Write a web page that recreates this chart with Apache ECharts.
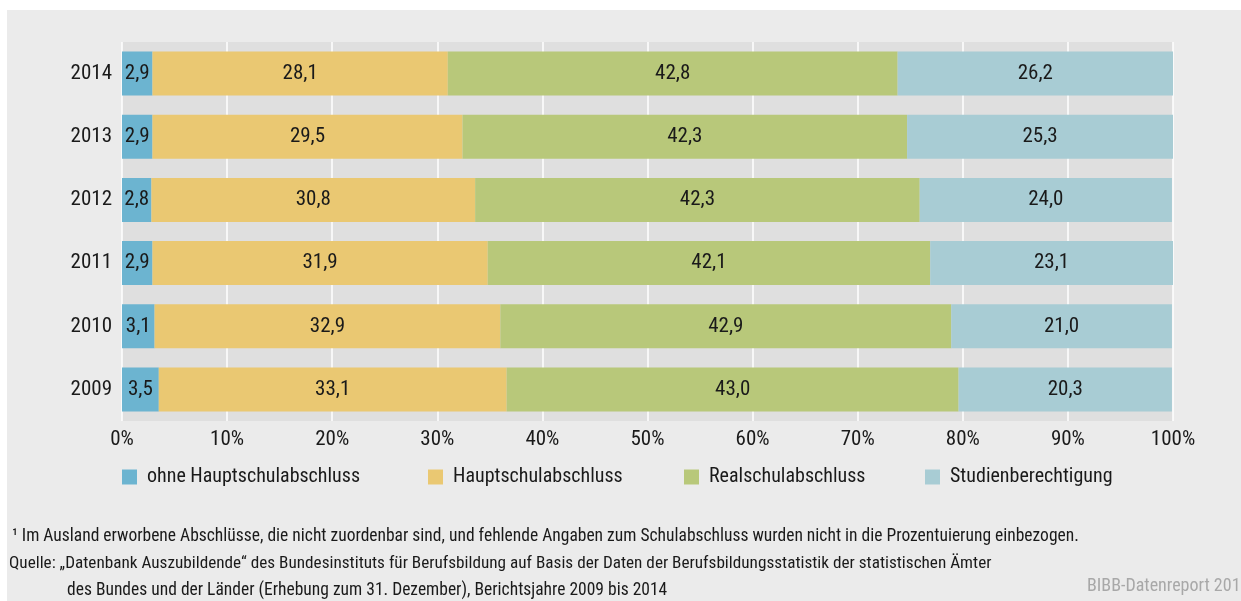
<!DOCTYPE html>
<html>
<head>
<meta charset="utf-8">
<script src="https://cdn.jsdelivr.net/npm/echarts@6/dist/echarts.min.js"></script>
<style>
  html, body { margin: 0; padding: 0; background: #fff; }
  #chart { width: 1241px; height: 601px; }
</style>
</head>
<body>
<div id="chart"></div>
<script>
// Daten
var years = ['2009', '2010', '2011', '2012', '2013', '2014'];
var seriesNames = ['ohne Hauptschulabschluss', 'Hauptschulabschluss', 'Realschulabschluss', 'Studienberechtigung'];
var ohneHaupt = [3.5, 3.1, 2.9, 2.8, 2.9, 2.9];
var haupt = [33.1, 32.9, 31.9, 30.8, 29.5, 28.1];
var real = [43.0, 42.9, 42.1, 42.3, 42.3, 42.8];
var studien = [20.3, 21.0, 23.1, 24.0, 25.3, 26.2];

var colors = ['#6cb4d0', '#eac872', '#b8c87a', '#a8ccd4'];
var FONT = "'Roboto Condensed', 'DejaVu Sans Condensed', sans-serif";

var myChart = echarts.init(document.getElementById('chart'));

function fmt(p) {
  return p.value.toFixed(1).replace('.', ',');
}

var allData = [ohneHaupt, haupt, real, studien];
var series = [];
for (var i = 0; i < allData.length; i++) {
  series.push({
    name: seriesNames[i],
    type: 'bar',
    stack: 'total',
    barWidth: 44,
    data: allData[i],
    itemStyle: { color: colors[i] },
    label: {
      show: true,
      position: 'inside',
      formatter: fmt,
      color: '#1a1a1a',
      fontFamily: FONT,
      fontSize: 21
    },
    emphasis: { disabled: true }
  });
}

// Legende: vier einzelne Einträge an festen Positionen
var legendLeft = [122, 428, 684, 925];
var legends = [];
for (var j = 0; j < seriesNames.length; j++) {
  legends.push({
    data: [seriesNames[j]],
    left: legendLeft[j],
    top: 467,
    padding: 0,
    itemWidth: 15,
    itemHeight: 15,
    itemGap: 0,
    icon: 'rect',
    selectedMode: false,
    textStyle: { fontFamily: FONT, fontSize: 20, color: '#1a1a1a', padding: [0, 0, 0, 5] }
  });
}

var option = {
  animation: false,
  backgroundColor: '#ffffff',
  legend: legends,
  grid: {
    left: 122,
    right: 68,
    top: 42,
    bottom: 180,
    show: true,
    backgroundColor: '#dfdfdf',
    borderWidth: 0
  },
  xAxis: {
    type: 'value',
    min: 0,
    max: 100,
    interval: 10,
    axisLine: { show: false },
    axisTick: { show: false },
    axisLabel: {
      formatter: '{value}%',
      color: '#1a1a1a',
      fontFamily: FONT,
      fontSize: 21,
      margin: 8
    },
    splitLine: { show: true, lineStyle: { color: '#ffffff', width: 1.5 } }
  },
  yAxis: {
    type: 'category',
    data: years,
    axisLine: { show: false },
    axisTick: { show: false },
    axisLabel: {
      color: '#1a1a1a',
      fontFamily: FONT,
      fontSize: 21,
      margin: 10
    }
  },
  graphic: [
    {
      type: 'rect',
      z: -10,
      shape: { x: 7, y: 10, width: 1240, height: 600 },
      style: { fill: '#ebebeb' }
    },
    {
      type: 'text', left: 12, top: 528,
      style: {
        text: '\u00b9 Im Ausland erworbene Abschlüsse, die nicht zuordenbar sind, und fehlende Angaben zum Schulabschluss wurden nicht in die Prozentuierung einbezogen.',
        font: '17.5px ' + FONT, fill: '#1a1a1a'
      }
    },
    {
      type: 'text', left: 9, top: 555,
      style: {
        text: 'Quelle: \u201eDatenbank Auszubildende\u201c des Bundesinstituts für Berufsbildung auf Basis der Daten der Berufsbildungsstatistik der statistischen Ämter',
        font: '17.2px ' + FONT, fill: '#1a1a1a'
      }
    },
    {
      type: 'text', left: 67, top: 582,
      style: {
        text: 'des Bundes und der Länder (Erhebung zum 31. Dezember), Berichtsjahre 2009 bis 2014',
        font: '17.5px ' + FONT, fill: '#1a1a1a'
      }
    },
    {
      type: 'text', left: 1087, top: 577,
      style: {
        text: 'BIBB-Datenreport 2016',
        font: '18px ' + FONT, fill: '#a8a8a8'
      }
    }
  ],
  series: series
};

myChart.setOption(option);

window.addEventListener('resize', function () {
  myChart.resize();
});
</script>
</body>
</html>
